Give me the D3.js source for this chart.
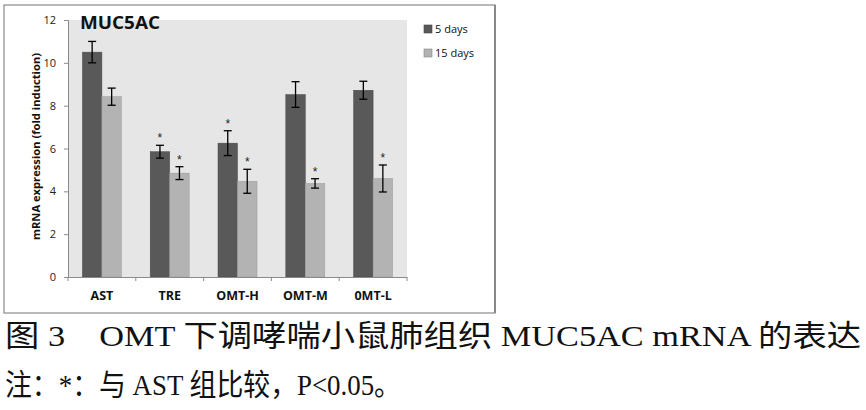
<!DOCTYPE html>
<html><head><meta charset="utf-8">
<script src="https://cdn.jsdelivr.net/npm/d3@7"></script>
<style>body{margin:0;background:#fff}svg{display:block}</style>
</head><body>
<svg id="c" width="866" height="410"></svg>
<script>
const categories = ["AST","TRE","OMT-H","OMT-M","0MT-L"];
const seriesNames = ["5 days","15 days"];
const days5 = [10.5, 5.85, 6.25, 8.52, 8.72];
const days5Err = [0.5, 0.3, 0.58, 0.6, 0.42];
const days15 = [8.42, 4.85, 4.47, 4.37, 4.6];
const days15Err = [0.4, 0.3, 0.56, 0.22, 0.63];
const star5 = [false, true, true, false, false];
const star15 = [false, true, true, true, true];
const yTicks = [0,2,4,6,8,10,12];
const colors = ["#595959","#b3b3b3"];

const svg = d3.select("#c");
const m = {l:68, r:407, t:20, b:277};
// outer frame
svg.append("rect").attr("x",4).attr("y",5).attr("width",491).attr("height",308)
  .attr("fill","#fff").attr("stroke","#8a8a8a").attr("stroke-width",1.2);
svg.append("line").attr("x1",495).attr("x2",495).attr("y1",5).attr("y2",313)
  .attr("stroke","#888").attr("stroke-width",2);
// plot bg
svg.append("rect").attr("x",m.l).attr("y",m.t).attr("width",m.r-m.l).attr("height",m.b-m.t).attr("fill","#e6e6e6");

const x = d3.scaleBand().domain(categories).range([m.l,m.r]);
const y = d3.scaleLinear().domain([0,12]).range([m.b,m.t]);
const bw = 19.5;

const data = categories.map((c,i)=>[
  {c, s:0, v:days5[i], e:days5Err[i], st:star5[i]},
  {c, s:1, v:days15[i], e:days15Err[i], st:star15[i]}
]).flat();

const bx = d => x(d.c) + x.bandwidth()/2 + (d.s===0 ? -bw : 0);
svg.selectAll("rect.bar").data(data).join("rect").attr("class","bar")
  .attr("x",bx).attr("width",bw)
  .attr("y",d=>y(d.v)).attr("height",d=>y(0)-y(d.v))
  .attr("fill",d=>colors[d.s]).attr("stroke",d=>d.s?"#9a9a9a":"#4a4a4a").attr("stroke-width",0.5);

const eb = svg.append("g").attr("stroke","#000").attr("stroke-width",1.3);
data.forEach(d=>{
  const cx = bx(d)+bw/2;
  eb.append("line").attr("x1",cx).attr("x2",cx).attr("y1",y(d.v+d.e)).attr("y2",y(d.v-d.e));
  eb.append("line").attr("x1",cx-4).attr("x2",cx+4).attr("y1",y(d.v+d.e)).attr("y2",y(d.v+d.e));
  eb.append("line").attr("x1",cx-4).attr("x2",cx+4).attr("y1",y(d.v-d.e)).attr("y2",y(d.v-d.e));
});
svg.selectAll("text.star").data(data.filter(d=>d.st)).join("text").attr("class","star")
  .attr("x",d=>bx(d)+bw/2).attr("y",d=>y(d.v+d.e)-3)
  .attr("text-anchor","middle").attr("font-family","Liberation Sans, Arial").attr("font-size",12).attr("fill","#222")
  .text("*");

// y axis
const ya = svg.append("g").attr("transform",`translate(${m.l},0)`)
  .call(d3.axisLeft(y).tickValues(yTicks).tickSize(4).tickPadding(8));
ya.select(".domain").attr("stroke","#8a8a8a");
ya.selectAll(".tick line").attr("stroke","#8a8a8a");
ya.selectAll("text").attr("font-family","Open Sans, DejaVu Sans, sans-serif").attr("font-size",11).attr("fill","#222");

// x axis
const xa = svg.append("g").attr("transform",`translate(0,${m.b})`)
  .call(d3.axisBottom(x).tickSize(0).tickPadding(14));
xa.select(".domain").attr("stroke","#8a8a8a");
xa.selectAll("text").attr("font-family","Open Sans, DejaVu Sans, sans-serif").attr("font-weight","bold").attr("font-size",12.5).attr("fill","#111");
const bounds = categories.map(c=>x(c)).concat([m.r]);
svg.append("g").selectAll("line").data(bounds).join("line")
  .attr("x1",d=>d).attr("x2",d=>d).attr("y1",m.b).attr("y2",m.b+4).attr("stroke","#8a8a8a");

// title
svg.append("text").attr("x",80).attr("y",29).attr("font-family","Open Sans, DejaVu Sans, sans-serif")
  .attr("font-weight","bold").attr("font-size",17).attr("fill","#111")
  .attr("textLength",80).attr("lengthAdjust","spacingAndGlyphs").text("MUC5AC");

// y label
svg.append("text").attr("transform",`translate(40,${(53+240)/2}) rotate(-90)`)
  .attr("text-anchor","middle").attr("font-family","Open Sans, DejaVu Sans, sans-serif")
  .attr("font-weight","bold").attr("font-size",11).attr("fill","#111")
  .attr("textLength",187).attr("lengthAdjust","spacingAndGlyphs")
  .text("mRNA expression (fold induction)");

// legend
const lg = svg.append("g");
seriesNames.forEach((s,i)=>{
  lg.append("rect").attr("x",424).attr("y",25+i*24).attr("width",8).attr("height",8)
    .attr("fill",colors[i]).attr("stroke",i?"#888":"#444").attr("stroke-width",0.6);
  lg.append("text").attr("x",435).attr("y",33+i*24).attr("font-family","Open Sans, DejaVu Sans, sans-serif")
    .attr("font-size",11).attr("fill","#111").text(s);
});

// caption
const capFont = "Liberation Serif, Noto Sans CJK SC, serif";
svg.append("text").attr("x",5).attr("y",346).attr("font-family",capFont)
  .attr("font-size",30).attr("fill","#111").attr("textLength",856).attr("lengthAdjust","spacingAndGlyphs")
  .text("图 3　OMT 下调哮喘小鼠肺组织 MUC5AC mRNA 的表达");
svg.append("text").attr("x",5).attr("y",395).attr("font-family",capFont)
  .attr("font-size",30).attr("fill","#111").attr("textLength",396).attr("lengthAdjust","spacingAndGlyphs")
  .text("注：*：与 AST 组比较，P<0.05。");
</script>
</body></html>
